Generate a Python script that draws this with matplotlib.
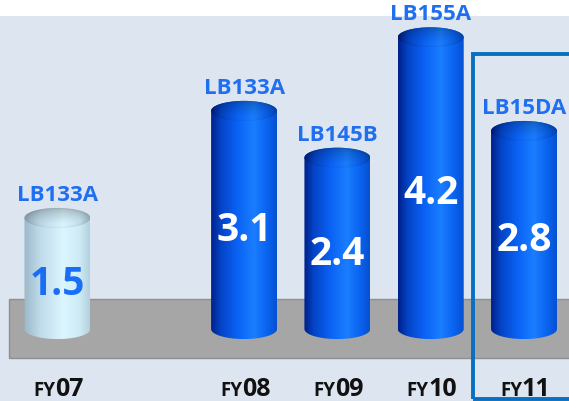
import numpy as np
import matplotlib
matplotlib.use("Agg")
from matplotlib import pyplot as plt
from matplotlib.colors import LinearSegmentedColormap
from matplotlib.patches import Polygon, Rectangle, Ellipse

plt.rcParams['font.family'] = ['Open Sans', 'DejaVu Sans']

# DATA ########################################################################

years = ["07", "08", "09", "10", "11"]
slots = [0, 2, 3, 4, 5]          # slot 1 is left empty
models = ["LB133A", "LB133A", "LB145B", "LB155A", "LB15DA"]
values = [1.5, 3.1, 2.4, 4.2, 2.8]
highlight = "11"

# GEOMETRY ####################################################################

BASE = -0.16      # centre of the bottom ellipse
WIDTH = 0.707     # cylinder diameter (x units)
CAP_H = 0.30      # full height of the end ellipses (y units)

blue_cmap = LinearSegmentedColormap.from_list("blue_cyl", [
    (0.00, "#00208a"), (0.15, "#0444c6"), (0.40, "#0a62f5"),
    (0.65, "#1a7eff"), (0.85, "#0a63f0"), (1.00, "#0650d0")])
pale_cmap = LinearSegmentedColormap.from_list("pale_cyl", [
    (0.00, "#9cb8c8"), (0.25, "#c0dcea"), (0.60, "#dcf6ff"),
    (0.85, "#cdeaf5"), (1.00, "#b2d0de")])


def ellipse_pts(xc, yc, a, b, t0, t1, n=60):
    t = np.linspace(t0, t1, n)
    return np.column_stack([xc + a * np.cos(t), yc + b * np.sin(t)])


def draw_cylinder(ax, xc, top, cmap):
    a, b = WIDTH / 2, CAP_H / 2
    outline = np.vstack([ellipse_pts(xc, top, a, b, 0, np.pi),
                         ellipse_pts(xc, BASE, a, b, np.pi, 2 * np.pi)])
    clip = Polygon(outline, closed=True, facecolor="none", edgecolor="none",
                   transform=ax.transData)
    ax.add_patch(clip)

    # body: horizontal shading
    grad = np.linspace(0, 1, 256)[None, :]
    im = ax.imshow(grad, cmap=cmap, aspect="auto", interpolation="bilinear",
                   extent=[xc - a, xc + a, BASE - b, top + b], zorder=3)
    im.set_clip_path(clip)

    # cap: darker rim, lighter centre
    n = 120
    u, t = np.meshgrid(np.linspace(0, 1, n), np.linspace(0, 1, n))
    r2 = ((u - 0.5) / 0.5) ** 2 + ((t - 0.5) / 0.5) ** 2
    rgb = cmap(u)[..., :3]
    shade = 0.78 + 0.27 * (1 - t) - 0.12 * np.clip(r2, 0, 1) ** 3
    rgb = np.clip(rgb * shade[..., None], 0, 1)
    cap = Ellipse((xc, top), WIDTH, CAP_H, facecolor="none", edgecolor="none",
                  transform=ax.transData)
    ax.add_patch(cap)
    im2 = ax.imshow(rgb, origin="lower", aspect="auto", interpolation="bilinear",
                    extent=[xc - a, xc + a, top - b, top + b], zorder=4)
    im2.set_clip_path(cap)


# PLOT ########################################################################

fig = plt.figure(figsize=(5.69, 4.01), dpi=100, facecolor="white")
ax = fig.add_axes([0, 0, 1, 1])
ax.set_axis_off()

xlim = (-0.616, 5.482)
ylim = (-1.236, 4.758)

# panel background below the white strip
ax.add_patch(Rectangle((0, 0), 1, 1 - 16 / 401, transform=ax.transAxes,
                       facecolor="#dce5f0", edgecolor="none", zorder=0))

# grey floor
ax.add_patch(Rectangle((-0.52, -0.593), 6.2, 0.882, facecolor="#a6a6a6",
                       edgecolor="#8f8f8f", linewidth=1, zorder=1))

for i, (yr, slot, model, val) in enumerate(zip(years, slots, models, values)):
    cmap = pale_cmap if i == 0 else blue_cmap
    draw_cylinder(ax, slot, val, cmap)

    ax.text(slot, val + CAP_H / 2 + 0.19, model, ha="center", va="center",
            color="#1f6ff0", fontsize=16, fontweight="bold", zorder=6)

    ax.text(slot, (BASE + val) / 2 - 0.16, "{:.1f}".format(val), ha="center",
            va="center", color="#1a6ef5" if i == 0 else "white",
            fontsize=28, fontweight="bold", zorder=6)

    ax.annotate("FY", (slot, -1.165), xytext=(-1.5, 0), textcoords="offset points",
                ha="right", va="baseline", fontsize=13.5, fontweight="bold",
                color="#111111", zorder=6)
    ax.annotate(yr, (slot, -1.165), xytext=(-1.5, 0), textcoords="offset points",
                ha="left", va="baseline", fontsize=18, fontweight="bold",
                color="#111111", zorder=6)

# frame around the current year
hx = slots[years.index(highlight)]
ax.add_patch(Rectangle((hx - 0.547, -1.206), 1.15, 5.156, facecolor="none",
                       edgecolor="#0a6fc0", linewidth=2.8, zorder=7))

ax.set_xlim(*xlim)
ax.set_ylim(*ylim)

fig.savefig("out.png", dpi=100, facecolor="white")
